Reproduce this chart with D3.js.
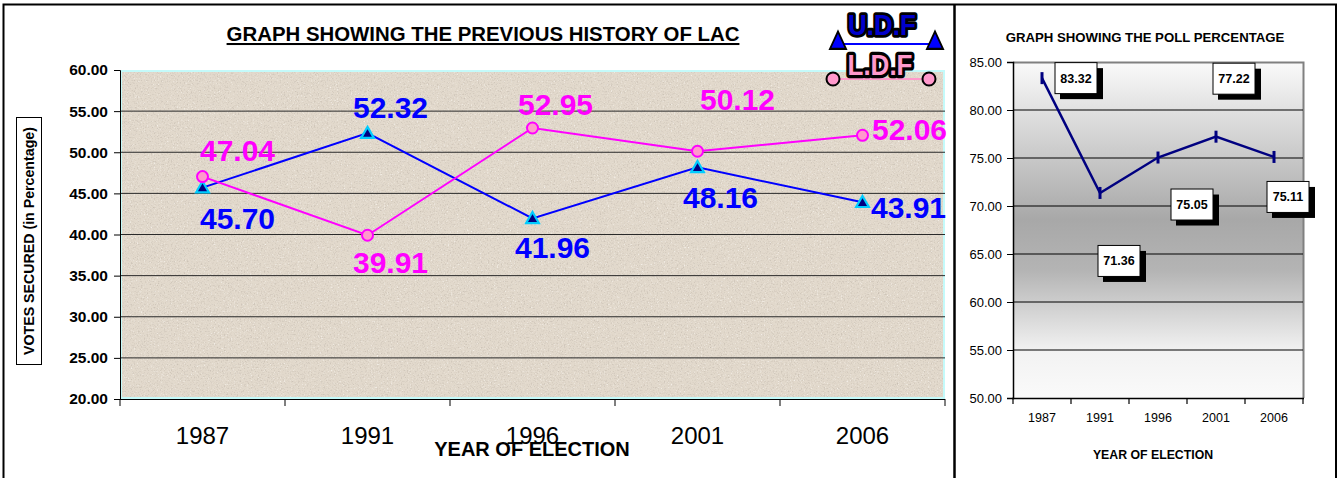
<!DOCTYPE html>
<html>
<head>
<meta charset="utf-8">
<script src="https://cdn.jsdelivr.net/npm/d3@7"></script>
<style>
  body { margin: 0; background: #fff; }
  svg { display: block; font-family: Arial, "Liberation Sans", sans-serif; }
</style>
</head>
<body>
<div id="chart"></div>
<script>
// --- Data ---
const years = ["1987", "1991", "1996", "2001", "2006"];
const udfVotes = [45.70, 52.32, 41.96, 48.16, 43.91];
const ldfVotes = [47.04, 39.91, 52.95, 50.12, 52.06];
const pollPercent = [83.32, 71.36, 75.05, 77.22, 75.11];
const voteTicks = [20, 25, 30, 35, 40, 45, 50, 55, 60];
const pollTicks = [50, 55, 60, 65, 70, 75, 80, 85];

// --- Label nudges (layout only: [dx, dy] from the point) ---
const udfNudge = [[35, 41], [23, -15], [20, 40], [23, 41], [46, 16]];
const ldfNudge = [[35, -16], [23, 38], [23, -13], [40, -41], [47, 5]];
const pollNudge = [[34, 0], [19, 68], [34, 47], [18, -58], [14, 40]];

const W = 1343, H = 478;
const svg = d3.select("#chart").append("svg").attr("width", W).attr("height", H);
const defs = svg.append("defs");

// texture for the left plot: dark and light speckles
const noise = defs.append("filter").attr("id", "noise")
  .attr("x", 0).attr("y", 0).attr("width", "100%").attr("height", "100%");
noise.append("feTurbulence").attr("type", "fractalNoise").attr("baseFrequency", 0.7)
  .attr("numOctaves", 3).attr("seed", 7).attr("result", "t");
noise.append("feColorMatrix").attr("in", "t").attr("type", "matrix")
  .attr("values", "0 0 0 0 0.58  0 0 0 0 0.52  0 0 0 0 0.45  2.4 0 0 0 -1.22").attr("result", "dark");
noise.append("feColorMatrix").attr("in", "t").attr("type", "matrix")
  .attr("values", "0 0 0 0 0.97  0 0 0 0 0.95  0 0 0 0 0.92  0 -2.4 0 0 0.95").attr("result", "light");
const merge = noise.append("feMerge");
merge.append("feMergeNode").attr("in", "light");
merge.append("feMergeNode").attr("in", "dark");

// gradient for the right plot
const grad = defs.append("linearGradient").attr("id", "pollBg")
  .attr("x1", 0).attr("y1", 0).attr("x2", 0).attr("y2", 1);
[["0%", "#fafafa"], ["47%", "#a8a8a8"], ["62%", "#b4b4b4"], ["86%", "#f2f2f2"], ["100%", "#fafafa"]]
  .forEach(s => grad.append("stop").attr("offset", s[0]).attr("stop-color", s[1]));

// --- Frames ---
svg.append("rect").attr("x", 3.5).attr("y", 4.5).attr("width", 1332.5).attr("height", 500)
  .attr("fill", "none").attr("stroke", "#000").attr("stroke-width", 2);
svg.append("line").attr("x1", 954.5).attr("x2", 954.5).attr("y1", 4).attr("y2", H)
  .attr("stroke", "#000").attr("stroke-width", 2.5);

// ==============================
// Left chart: votes history
// ==============================
const x = d3.scaleBand().domain(years).range([120, 945]);
const y = d3.scaleLinear().domain([20, 60]).range([399, 70]);

const left = svg.append("g");

left.append("rect").attr("x", 120).attr("y", 70).attr("width", 825).attr("height", 329)
  .attr("fill", "#e2d9cc");
left.append("rect").attr("x", 120).attr("y", 70).attr("width", 825).attr("height", 329)
  .attr("fill", "#fff").attr("filter", "url(#noise)");
left.append("rect").attr("x", 121).attr("y", 71).attr("width", 823).attr("height", 327)
  .attr("fill", "none").attr("stroke", "#c4fafa").attr("stroke-width", 2);

// gridlines
left.append("g").selectAll("line")
  .data(voteTicks.filter(d => d > 20 && d < 60))
  .join("line")
  .attr("x1", 120).attr("x2", 945)
  .attr("y1", d => y(d)).attr("y2", d => y(d))
  .attr("stroke", "#2a2a2a").attr("stroke-width", 1);

// y axis
const yAxis = left.append("g").attr("transform", "translate(120,0)")
  .call(d3.axisLeft(y).tickValues(voteTicks).tickFormat(d3.format(".2f")).tickSize(6).tickPadding(6));
yAxis.select(".domain").attr("stroke", "#000");
yAxis.selectAll("text").attr("font-size", 15.5).attr("font-weight", "bold").attr("fill", "#000")
  .attr("font-family", "Arial, 'Liberation Sans', sans-serif");

// x axis
left.append("line").attr("x1", 120).attr("x2", 945).attr("y1", 399.5).attr("y2", 399.5).attr("stroke", "#000");
const edges = years.map(d => x(d)).concat([x.range()[1]]);
left.append("g").selectAll("line").data(edges).join("line")
  .attr("x1", d => d).attr("x2", d => d).attr("y1", 399).attr("y2", 406).attr("stroke", "#000");
left.append("g").selectAll("text").data(years).join("text")
  .attr("x", d => x(d) + x.bandwidth() / 2).attr("y", 444)
  .attr("text-anchor", "middle").attr("font-size", 24).attr("fill", "#000")
  .text(d => d);

// titles
left.append("text").attr("x", 483).attr("y", 41).attr("text-anchor", "middle")
  .attr("font-size", 20.4).attr("font-weight", "bold").attr("text-decoration", "underline")
  .text("GRAPH SHOWING THE PREVIOUS HISTORY OF LAC");
left.append("text").attr("x", 532).attr("y", 456).attr("text-anchor", "middle")
  .attr("font-size", 20).attr("font-weight", "bold").text("YEAR OF ELECTION");

left.append("rect").attr("x", 16.5).attr("y", 117.5).attr("width", 25).attr("height", 247)
  .attr("fill", "#fff").attr("stroke", "#000").attr("stroke-width", 1);
left.append("text").attr("transform", "translate(34,241) rotate(-90)")
  .attr("text-anchor", "middle").attr("font-size", 14.2).attr("font-weight", "bold")
  .text("VOTES SECURED (in Percentage)");

// series
const cx = (d, i) => x(years[i]) + x.bandwidth() / 2;
const line = d3.line().x(cx).y(d => y(d));

left.append("path").datum(udfVotes).attr("d", line)
  .attr("fill", "none").attr("stroke", "#0000ff").attr("stroke-width", 2);
left.append("path").datum(ldfVotes).attr("d", line)
  .attr("fill", "none").attr("stroke", "#ff00ff").attr("stroke-width", 2);

const tri = d3.symbol().type(d3.symbolTriangle).size(70);
left.append("g").selectAll("path").data(udfVotes).join("path")
  .attr("d", tri)
  .attr("transform", (d, i) => `translate(${cx(d, i)},${y(d) + 1})`)
  .attr("fill", "#000080").attr("stroke", "#00ccff").attr("stroke-width", 2.2);

left.append("g").selectAll("circle").data(ldfVotes).join("circle")
  .attr("cx", cx).attr("cy", d => y(d)).attr("r", 5.5)
  .attr("fill", "#ff99cc").attr("stroke", "#ff00ff").attr("stroke-width", 2);

left.append("g").selectAll("text").data(udfVotes).join("text")
  .attr("x", (d, i) => cx(d, i) + udfNudge[i][0]).attr("y", (d, i) => y(d) + udfNudge[i][1])
  .attr("text-anchor", "middle").attr("font-size", 30).attr("font-weight", "bold")
  .attr("fill", "#0000ff").text(d => d.toFixed(2));
left.append("g").selectAll("text").data(ldfVotes).join("text")
  .attr("x", (d, i) => cx(d, i) + ldfNudge[i][0]).attr("y", (d, i) => y(d) + ldfNudge[i][1])
  .attr("text-anchor", "middle").attr("font-size", 30).attr("font-weight", "bold")
  .attr("fill", "#ff00ff").text(d => d.toFixed(2));

// --- Legend (word-art style) ---
const lg = svg.append("g");
lg.append("line").attr("x1", 838).attr("x2", 940).attr("y1", 44).attr("y2", 44)
  .attr("stroke", "#0000ff").attr("stroke-width", 2);
const legTri = d3.symbol().type(d3.symbolTriangle).size(110);
[838, 935].forEach(px => {
  lg.append("path").attr("d", legTri).attr("transform", `translate(${px},43) scale(1,1.25)`)
    .attr("fill", "#0000ff").attr("stroke", "#000").attr("stroke-width", 1.8);
});
lg.append("text").attr("x", 882).attr("y", 35).attr("text-anchor", "middle")
  .attr("font-size", 26).attr("font-weight", "bold").attr("fill", "#0000cc")
  .attr("stroke", "#000").attr("stroke-width", 5).attr("stroke-linejoin", "round")
  .attr("paint-order", "stroke").attr("transform", "translate(882,35) scale(1,1.1) translate(-882,-35)")
  .text("U.D.F");

lg.append("line").attr("x1", 833).attr("x2", 929).attr("y1", 79).attr("y2", 79)
  .attr("stroke", "#ff99cc").attr("stroke-width", 2);
[833, 929].forEach(px => {
  lg.append("circle").attr("cx", px).attr("cy", 79).attr("r", 6.5)
    .attr("fill", "#ff99cc").attr("stroke", "#000").attr("stroke-width", 2);
});
lg.append("text").attr("x", 880).attr("y", 75).attr("text-anchor", "middle")
  .attr("font-size", 26).attr("font-weight", "bold").attr("fill", "#ff99cc")
  .attr("stroke", "#000").attr("stroke-width", 6).attr("stroke-linejoin", "round")
  .attr("paint-order", "stroke").attr("transform", "translate(880,75) scale(1,1.1) translate(-880,-75)")
  .text("L.D.F");

// ==============================
// Right chart: poll percentage
// ==============================
const x2 = d3.scaleBand().domain(years).range([1013, 1303]);
const y2 = d3.scaleLinear().domain([50, 85]).range([398, 62]);
const right = svg.append("g");

right.append("rect").attr("x", 1013).attr("y", 62).attr("width", 290).attr("height", 336)
  .attr("fill", "url(#pollBg)");
right.append("path").attr("d", "M1013,62.5H1303.5V398")
  .attr("fill", "none").attr("stroke", "#808080").attr("stroke-width", 2);

right.append("g").selectAll("line")
  .data(pollTicks.filter(d => d > 50 && d < 85))
  .join("line")
  .attr("x1", 1013).attr("x2", 1303)
  .attr("y1", d => y2(d)).attr("y2", d => y2(d))
  .attr("stroke", "#000").attr("stroke-width", 1.2);

const y2Axis = right.append("g").attr("transform", "translate(1013,0)")
  .call(d3.axisLeft(y2).tickValues(pollTicks).tickFormat(d3.format(".2f")).tickSize(6).tickPadding(5));
y2Axis.select(".domain").attr("stroke", "#000").attr("stroke-width", 1.5);
y2Axis.selectAll("text").attr("font-size", 13).attr("fill", "#000")
  .attr("font-family", "Arial, 'Liberation Sans', sans-serif");

right.append("line").attr("x1", 1012).attr("x2", 1304).attr("y1", 398.5).attr("y2", 398.5)
  .attr("stroke", "#000").attr("stroke-width", 1.5);
const edges2 = years.map(d => x2(d)).concat([x2.range()[1]]);
right.append("g").selectAll("line").data(edges2).join("line")
  .attr("x1", d => d).attr("x2", d => d).attr("y1", 398).attr("y2", 404)
  .attr("stroke", "#000").attr("stroke-width", 1.2);
right.append("g").selectAll("text").data(years).join("text")
  .attr("x", d => x2(d) + x2.bandwidth() / 2).attr("y", 422)
  .attr("text-anchor", "middle").attr("font-size", 12.5).attr("fill", "#000")
  .text(d => d);

right.append("text").attr("x", 1145).attr("y", 42).attr("text-anchor", "middle")
  .attr("font-size", 13.2).attr("font-weight", "bold").text("GRAPH SHOWING THE POLL PERCENTAGE");
right.append("text").attr("x", 1153).attr("y", 459).attr("text-anchor", "middle")
  .attr("font-size", 12.3).attr("font-weight", "bold").text("YEAR OF ELECTION");

const px2 = (d, i) => x2(years[i]) + x2.bandwidth() / 2;
right.append("path").datum(pollPercent)
  .attr("d", d3.line().x(px2).y(d => y2(d)))
  .attr("fill", "none").attr("stroke", "#000080").attr("stroke-width", 2.5);
right.append("g").selectAll("line").data(pollPercent).join("line")
  .attr("x1", px2).attr("x2", px2)
  .attr("y1", d => y2(d) - 6).attr("y2", d => y2(d) + 6)
  .attr("stroke", "#000080").attr("stroke-width", 3);

// labelled boxes with drop shadow
const boxes = right.append("g").selectAll("g").data(pollPercent).join("g")
  .attr("transform", (d, i) => `translate(${px2(d, i) + pollNudge[i][0]},${y2(d) + pollNudge[i][1]})`);
boxes.append("rect").attr("x", -16).attr("y", -10).attr("width", 43).attr("height", 31).attr("fill", "#000");
boxes.append("rect").attr("x", -21).attr("y", -15.5).attr("width", 42).attr("height", 31)
  .attr("fill", "#fff").attr("stroke", "#000").attr("stroke-width", 1);
boxes.append("text").attr("x", 0).attr("y", 4.5).attr("text-anchor", "middle")
  .attr("font-size", 12.5).attr("font-weight", "bold").text(d => d.toFixed(2));
</script>
</body>
</html>
